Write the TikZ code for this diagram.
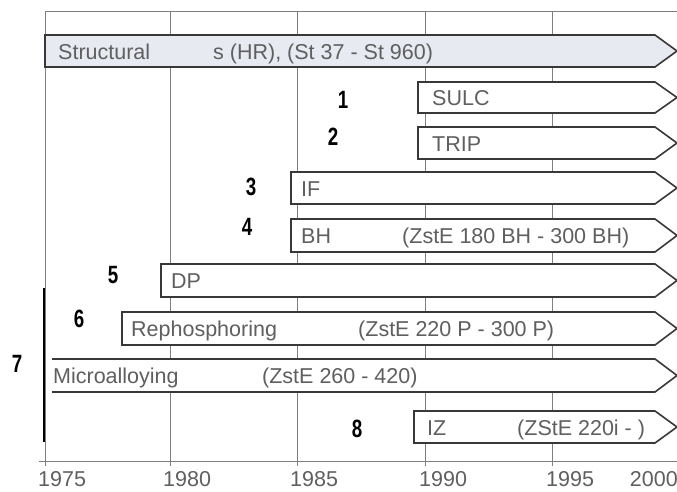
\documentclass[tikz,border=0pt]{standalone}
\usepackage{fontspec}
\setmainfont{Liberation Sans}
\usetikzlibrary{positioning}

\definecolor{structfill}{RGB}{232,234,242}
\definecolor{labgray}{RGB}{95,95,95}

\tikzset{
  gridline/.style={draw=black!50, line width=1pt},
  barline/.style={draw=black!78, line width=1.6pt, line join=miter, fill=white},
  bartext/.style={text=labgray, font=\fontsize{21.5}{22}\selectfont, inner sep=0pt, anchor=base west},
  yearlabel/.style={text=labgray, font=\fontsize{21.5}{22}\selectfont, inner sep=0pt, anchor=base west},
  rownum/.style={font=\fontsize{25}{25}\selectfont\bfseries, xscale=0.75, inner sep=0pt, anchor=base},
}

% bar from left x, top y to bottom y, pointed at the right
\newcommand{\steelbar}[4][]{%
  \draw[barline,#1] (#2,#3) -- (655,#3) -- (677,{(#3+#4)/2}) -- (655,#4) -- (#2,#4) -- cycle;}

\begin{document}
\begin{tikzpicture}[x=1pt, y=-1pt]
    \useasboundingbox (0,0) rectangle (677,492);

    % Grid and time axis
    \draw[gridline] (45,12) -- (677,12);
    \foreach \gx in {45,170,297,425,552}
        \draw[gridline] (\gx,12) -- (\gx,466);
    \draw[gridline] (39,461) -- (677,461);
    \node[yearlabel] (y1975) at (38,486) {1975};
    \node[yearlabel] (y1980) at (163,486) {1980};
    \node[yearlabel] (y1985) at (290,486) {1985};
    \node[yearlabel] (y1990) at (419,486) {1990};
    \node[yearlabel] (y1995) at (546,486) {1995};
    \node[yearlabel, anchor=base east] (y2000) at (678,486) {2000};

    % Steel grades
    \steelbar[fill=structfill]{45}{35}{67}
    \node[bartext] (struct) at (58,60) {Structural};
    \node[bartext] (structgr) at (213,60) {s (HR), (St 37 - St 960)};

    \steelbar{418}{82}{113}
    \node[bartext] (sulc) at (432,106) {SULC};

    \steelbar{418}{127}{159}
    \node[bartext] (trip) at (432,151) {TRIP};

    \steelbar{291}{172}{204}
    \node[bartext] (if) at (301,196) {IF};

    \steelbar{291}{219}{252}
    \node[bartext] (bh) at (301,243) {BH};
    \node[bartext] (bhgr) at (402,243) {(ZstE 180 BH - 300 BH)};

    \steelbar{161}{264}{297}
    \node[bartext] (dp) at (171,288) {DP};

    \steelbar{122}{312}{345}
    \node[bartext] (reph) at (131,336) {Rephosphoring};
    \node[bartext] (rephgr) at (358,336) {(ZstE 220 P - 300 P)};

    % open on the left
    \fill[white] (52,359) -- (655,359) -- (677,375.5) -- (655,392) -- (52,392) -- cycle;
    \draw[barline, fill=none] (52,359) -- (655,359) -- (677,375.5) -- (655,392) -- (52,392);
    \node[bartext] (micro) at (53,383) {Microalloying};
    \node[bartext] (microgr) at (262,383) {(ZstE 260 - 420)};

    \steelbar{414}{411}{443}
    \node[bartext] (iz) at (427,435) {IZ};
    \node[bartext] (izgr) at (517,435) {(ZStE 220i - )};

    % Row numbers
    \node[rownum] (n1) at (343,109) {1};
    \node[rownum] (n2) at (333,146) {2};
    \node[rownum] (n3) at (251,195) {3};
    \node[rownum] (n4) at (247,235) {4};
    \node[rownum] (n5) at (113,283) {5};
    \node[rownum] (n6) at (79,327) {6};
    \node[rownum] (n7) at (17,372) {7};
    \node[rownum] (n8) at (357,437) {8};
    \draw[line width=2pt] (44,288) -- (44,442);
\end{tikzpicture}
\end{document}
